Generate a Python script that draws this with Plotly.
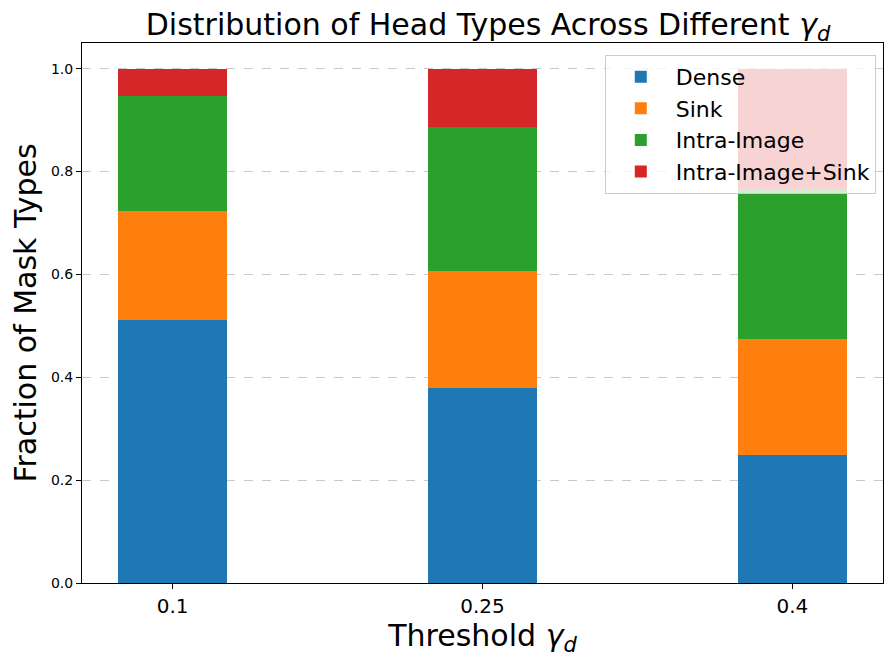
import plotly.graph_objects as go

thresholds = ["0.1", "0.25", "0.4"]
dense = [0.512, 0.380, 0.248]
sink = [0.211, 0.226, 0.226]
intra_image = [0.224, 0.281, 0.292]
intra_image_sink = [0.053, 0.113, 0.234]

series_names = ["Dense", "Sink", "Intra-Image", "Intra-Image+Sink"]
series_values = [dense, sink, intra_image, intra_image_sink]
colors = ["#1f77b4", "#ff7f0e", "#2ca02c", "#d62728"]

y_ticks = [0.0, 0.2, 0.4, 0.6, 0.8, 1.0]

fig = go.Figure()
for name, vals, col in zip(series_names, series_values, colors):
    fig.add_trace(go.Bar(x=thresholds, y=vals, name=name, marker=dict(color=col, line=dict(width=0))))

font_family = "DejaVu Sans"
W, H = 886, 655
fig.update_layout(
    barmode="stack",
    bargap=0.65,
    width=W, height=H,
    margin=dict(l=74, r=11, t=35, b=80, autoexpand=False),
    paper_bgcolor="white", plot_bgcolor="white",
    font=dict(family=font_family, color="black"),
    title=dict(text="Distribution of Head Types Across Different <i>γ</i><sub><i>d</i></sub>",
               x=480 / W, xanchor="center", xref="container", y=1 - 16 / H, yanchor="middle", yref="container",
               font=dict(size=30, family=font_family)),
    legend=dict(x=0.991, y=0.978, xanchor="right", yanchor="top",
                bgcolor="rgba(255,255,255,0.8)", bordercolor="#cccccc", borderwidth=1,
                font=dict(size=22, family=font_family), traceorder="normal",
                itemsizing="constant", itemwidth=60),
    showlegend=True,
)
fig.update_xaxes(
    type="category", range=[-0.2925, 2.2925], automargin=False,
    showline=True, mirror=True, linecolor="black", linewidth=1,
    ticks="outside", ticklen=5, tickcolor="black",
    tickfont=dict(size=20),
    title=dict(text="Threshold <i>γ</i><sub><i>d</i></sub>", font=dict(size=30), standoff=6),
    showgrid=False,
)
fig.update_yaxes(
    range=[0, 1.05], tickvals=y_ticks, ticktext=[f"{v:.1f}" for v in y_ticks], automargin=False,
    showline=True, mirror=True, linecolor="black", linewidth=1,
    ticks="outside", ticklen=5, tickcolor="black",
    tickfont=dict(size=14),
    title=dict(text="Fraction of Mask Types", font=dict(size=30), standoff=8),
    showgrid=True, gridcolor="rgba(176,176,176,0.7)", griddash="dash", gridwidth=1,
    zeroline=False,
)

fig.write_html("out.html")
